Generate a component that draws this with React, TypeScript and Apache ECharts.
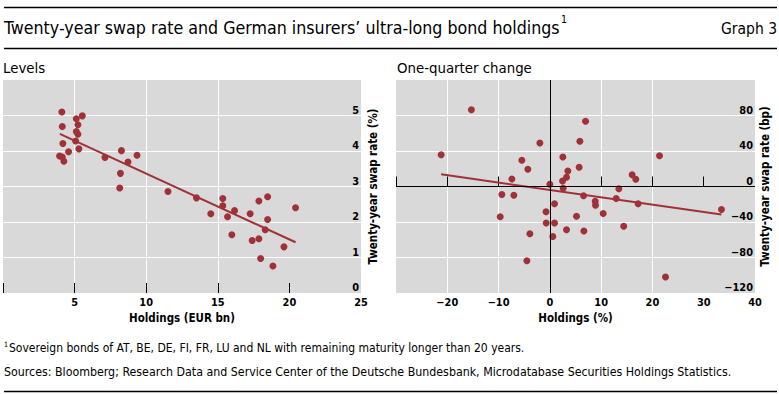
import React, { useEffect, useRef } from 'react';
import * as echarts from 'echarts';

// ---- Data ----
// Left panel: Levels
const levelsHoldings = [4.11, 4.14, 5.12, 5.54, 5.23, 5.12, 5.23, 5.07, 4.18, 5.3, 4.58, 3.95, 4.14, 4.25, 7.12, 8.27, 9.36, 8.73, 8.2, 8.15, 11.52, 13.51, 14.51, 15.35, 15.35, 15.68, 16.17, 15.98, 17.26, 17.87, 18.48, 18.48, 18.31, 17.4, 17.87, 17.99, 18.85, 19.62, 20.43];
const levelsSwap = [5.1, 4.69, 4.91, 4.99, 4.74, 4.55, 4.47, 4.28, 4.21, 4.06, 3.98, 3.86, 3.83, 3.71, 3.82, 4.01, 3.88, 3.69, 3.37, 2.96, 2.86, 2.68, 2.23, 2.66, 2.46, 2.15, 2.32, 1.64, 2.23, 2.59, 2.71, 2.07, 1.78, 1.48, 1.53, 0.97, 0.76, 1.3, 2.4];
const levelsTrendX = [3.97, 20.43];
const levelsTrendY = [4.48, 1.43];

// Right panel: One-quarter change
const changeHoldings = [-15.3, -21.2, -1.95, 6.96, 5.85, 2.53, -5.46, -4.29, 5.71, 3.51, 3.25, 2.47, -7.4, 0, 2.6, 6.57, -9.36, -7.02, 0.91, 8.84, 8.9, 13.45, 12.93, 16.04, 16.76, 17.21, 21.38, 33.46, -0.75, -9.68, 5.2, 10.4, -0.71, 0.91, 14.4, -3.9, 3.25, 6.63, 0.58, -4.48, 22.55];
const changeSwap = [86.5, 35.8, 49, 73.5, 50.9, 33.2, 29.5, 19.4, 21.6, 17.5, 10.4, 6.2, 8.5, 2.5, -2, -10.4, -9, -9.8, -19.5, -16.6, -21.1, -2.5, -13.5, 13.2, 8.1, -19.4, 34.6, -26, -28.5, -34.1, -33.6, -30.4, -41.2, -41.2, -44.8, -53.2, -48.7, -50.1, -56.3, -83.6, -102];
const changeTrendX = [-21.2, 33.46];
const changeTrendY = [13.7, -31.5];

// Ticks and labels
const levelsXTicks = [0, 5, 10, 15, 20];
const levelsXLabels = [5, 10, 15, 20, 25];
const levelsYLabels = [0, 1, 2, 3, 4, 5];
const changeXTicks = [-30, -20, -10, 0, 10, 20, 30];
const changeXLabels = [-20, -10, 0, 10, 20, 30, 40];
const changeYLabels = [-120, -80, -40, 0, 40, 80];

const titleText = 'Twenty-year swap rate and German insurers\u2019 ultra-long bond holdings';
const graphLabel = 'Graph 3';
const leftPanelTitle = 'Levels';
const rightPanelTitle = 'One-quarter change';
const footnoteText = 'Sovereign bonds of AT, BE, DE, FI, FR, LU and NL with remaining maturity longer than 20 years.';
const sourcesText = 'Sources: Bloomberg; Research Data and Service Center of the Deutsche Bundesbank, Microdatabase Securities Holdings Statistics.';

const RED = '#a03237';
const GRAY = '#d9d9d9';

function zip(a: number[], b: number[]) {
  return a.map((v, i) => [v, b[i]]);
}
function fmt(v: number) {
  return v < 0 ? '\u2212' + Math.abs(v) : String(v);
}

export default function App() {
  const ref = useRef<HTMLDivElement>(null);
  useEffect(() => {
    if (!ref.current) return;
    const ctx = document.createElement('canvas').getContext('2d')!;
    const measure = (font: string, text: string) => {
      ctx.font = font;
      return ctx.measureText(text).width;
    };
    const probe = 'abcdefghijklmnopqrstuvwxyzABCDEFGHIJ0123456789';
    const has = (f: string) => measure(`100px "${f}", monospace`, probe) !== measure('100px monospace', probe);
    const fam = ['Liberation Sans Narrow', 'DejaVu Sans Condensed', 'Open Sans'].find(has) || 'sans-serif';
    const famCss = `"${fam}", sans-serif`;
    const fit = (text: string, weight: string, target: number) =>
      (100 * target) / measure(`${weight} 100px ${famCss}`, text);

    const titleSize = fit(titleText, 'normal', 556);
    const graphSize = fit(graphLabel, 'normal', 56);
    const panelSize = (fit(leftPanelTitle, 'normal', 39) + fit(rightPanelTitle, 'normal', 145)) / 2;
    const footSize = fit(footnoteText, 'normal', 516);
    const srcSize = fit(sourcesText, 'normal', 728);
    const nameSize = (fit('Holdings (EUR bn)', 'bold', 108) + fit('Holdings (%)', 'bold', 73)) / 2;
    const tickSize = (fit('25', 'bold', 14) + fit('\u2212120', 'bold', 28)) / 2;

    const chart = echarts.init(ref.current, null, { renderer: 'svg', width: 779, height: 394 });

    const nameText = { color: '#000', fontWeight: 'bold' as const, fontFamily: famCss, fontSize: nameSize };
    const tickText = { color: '#000', fontWeight: 'bold' as const, fontFamily: famCss, fontSize: tickSize };
    const split = { show: true, showMinLine: false, showMaxLine: false, lineStyle: { color: '#ffffff', width: 1 } };

    const option: any = {
      animation: false,
      backgroundColor: '#ffffff',
      textStyle: { fontFamily: famCss },
      grid: [
        { left: 3, top: 80, width: 358, height: 213, show: true, backgroundColor: GRAY, borderWidth: 0, containLabel: false, outerBoundsMode: 'none' },
        { left: 396, top: 80, width: 359, height: 213, show: true, backgroundColor: GRAY, borderWidth: 0, containLabel: false, outerBoundsMode: 'none' },
      ],
      xAxis: [
        {
          type: 'value', gridIndex: 0, min: 0, max: 25, interval: 5,
          axisLine: { show: false },
          axisTick: { show: true, inside: true, length: 10, lineStyle: { color: '#000', width: 1 }, customValues: levelsXTicks },
          axisLabel: { ...tickText, margin: 4, customValues: levelsXLabels, formatter: fmt },
          splitLine: split,
          name: 'Holdings (EUR bn)', nameLocation: 'middle', nameGap: 15, nameTextStyle: nameText,
        },
        {
          type: 'value', gridIndex: 1, min: -30, max: 40, interval: 10,
          axisLine: { show: false },
          axisTick: { show: true, inside: true, length: 10, lineStyle: { color: '#000', width: 1 }, customValues: changeXTicks },
          axisLabel: { ...tickText, margin: 4, customValues: changeXLabels, formatter: fmt },
          splitLine: split,
          name: 'Holdings (%)', nameLocation: 'middle', nameGap: 15, nameTextStyle: nameText,
        },
      ],
      yAxis: [
        {
          type: 'value', gridIndex: 0, position: 'right', min: 0, max: 6, interval: 1,
          axisLine: { show: false }, axisTick: { show: false },
          axisLabel: { ...tickText, inside: true, margin: 2, verticalAlign: 'bottom', customValues: levelsYLabels, formatter: fmt },
          splitLine: split,
          name: 'Twenty-year swap rate (%)', nameLocation: 'middle', nameRotate: 90, nameGap: 6, nameTextStyle: nameText,
        },
        {
          type: 'value', gridIndex: 1, position: 'right', min: -120, max: 120, interval: 40,
          axisLine: { show: false }, axisTick: { show: false },
          axisLabel: { ...tickText, inside: true, margin: 2, verticalAlign: 'bottom', customValues: changeYLabels, formatter: fmt },
          splitLine: split,
          name: 'Twenty-year swap rate (bp)', nameLocation: 'middle', nameRotate: 90, nameGap: 4, nameTextStyle: nameText,
        },
      ],
      series: [
        {
          type: 'line', xAxisIndex: 0, yAxisIndex: 0, data: zip(levelsTrendX, levelsTrendY),
          symbol: 'none', lineStyle: { color: RED, width: 2 }, z: 2, silent: true,
        },
        {
          type: 'scatter', xAxisIndex: 0, yAxisIndex: 0, data: zip(levelsHoldings, levelsSwap),
          symbolSize: 7, itemStyle: { color: RED, opacity: 1 }, z: 3, silent: true,
        },
        {
          type: 'line', xAxisIndex: 1, yAxisIndex: 1, data: zip(changeTrendX, changeTrendY),
          symbol: 'none', lineStyle: { color: RED, width: 2 }, z: 2, silent: true,
          markLine: {
            silent: true, symbol: ['none', 'none'], label: { show: false },
            lineStyle: { color: '#000', width: 1, type: 'solid' },
            emphasis: { disabled: true },
            data: [{ xAxis: 0 }, { yAxis: 0 }],
          },
        },
        {
          type: 'scatter', xAxisIndex: 1, yAxisIndex: 1, data: zip(changeHoldings, changeSwap),
          symbolSize: 7, itemStyle: { color: RED, opacity: 1 }, z: 3, silent: true,
        },
      ],
      graphic: [
        { type: 'line', shape: { x1: 4, y1: 7.5, x2: 777, y2: 7.5 }, style: { stroke: '#000', lineWidth: 1.5 } },
        { type: 'line', shape: { x1: 4, y1: 48.5, x2: 777, y2: 48.5 }, style: { stroke: '#000', lineWidth: 1.5 } },
        { type: 'line', shape: { x1: 4, y1: 391.5, x2: 777, y2: 391.5 }, style: { stroke: '#000', lineWidth: 1.5 } },
        { type: 'text', x: 4, y: 28, style: { text: titleText, fontSize: titleSize, fontFamily: famCss, fill: '#000', verticalAlign: 'middle', align: 'left' } },
        { type: 'text', x: 4 + 556 + 1, y: 19, style: { text: '1', fontSize: titleSize * 0.6, fontFamily: famCss, fill: '#000', verticalAlign: 'middle', align: 'left' } },
        { type: 'text', x: 777, y: 29, style: { text: graphLabel, fontSize: graphSize, fontFamily: famCss, fill: '#000', verticalAlign: 'middle', align: 'right' } },
        { type: 'text', x: 3, y: 67, style: { text: leftPanelTitle, fontSize: panelSize, fontFamily: famCss, fill: '#000', verticalAlign: 'middle', align: 'left' } },
        { type: 'text', x: 397, y: 67, style: { text: rightPanelTitle, fontSize: panelSize, fontFamily: famCss, fill: '#000', verticalAlign: 'middle', align: 'left' } },
        { type: 'text', x: 4, y: 344, style: { text: '1', fontSize: footSize * 0.6, fontFamily: famCss, fill: '#000', verticalAlign: 'middle', align: 'left' } },
        { type: 'text', x: 9, y: 347.5, style: { text: footnoteText, fontSize: footSize, fontFamily: famCss, fill: '#000', verticalAlign: 'middle', align: 'left' } },
        { type: 'text', x: 4, y: 371.5, style: { text: sourcesText, fontSize: srcSize, fontFamily: famCss, fill: '#000', verticalAlign: 'middle', align: 'left' } },
      ],
    };
    chart.setOption(option);
    return () => chart.dispose();
  }, []);
  return (
    <div
      ref={ref}
      style={{ position: 'fixed', left: 0, top: 0, width: 779, height: 394, background: '#fff' }}
    />
  );
}
